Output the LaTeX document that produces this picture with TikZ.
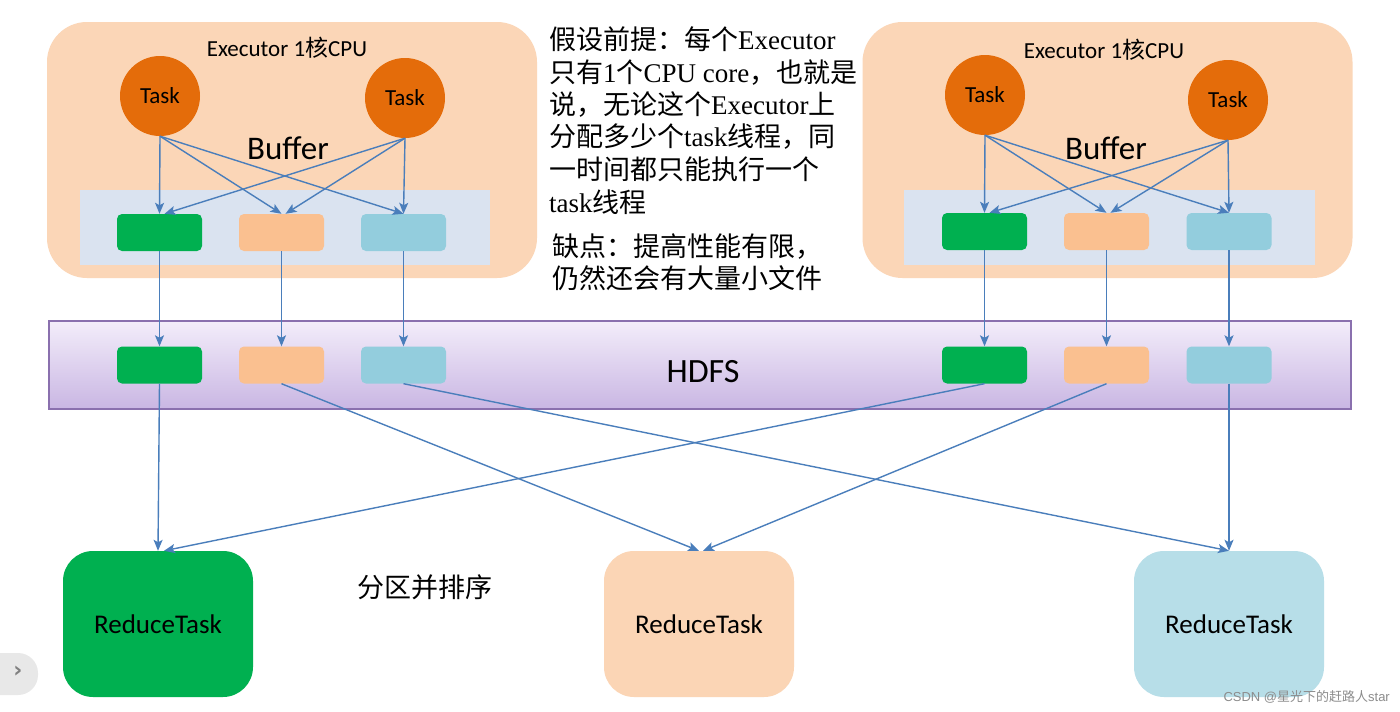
\documentclass[tikz,border=0pt]{standalone}
\usepackage{fontspec}
\setmainfont{Liberation Serif}
\newfontfamily\cjk{Noto Sans CJK SC}
\newfontfamily\calibri{Carlito}
\newfontfamily\lsans{Liberation Sans}
\newfontfamily\dvs{DejaVu Sans}
\usetikzlibrary{arrows.meta,shadings}
\definecolor{execfill}{HTML}{FBD6B7}
\definecolor{buffill}{HTML}{DAE3F0}
\definecolor{taskfill}{HTML}{E46C0A}
\definecolor{gbox}{HTML}{00B050}
\definecolor{pbox}{HTML}{FAC090}
\definecolor{bbox}{HTML}{93CDDD}
\definecolor{rpeach}{HTML}{FBD5B5}
\definecolor{rblue}{HTML}{B7DEE8}
\definecolor{arrcol}{HTML}{4A7EBB}
\definecolor{hdfsborder}{HTML}{8A70AE}
\definecolor{hdfstop}{HTML}{F3EDFA}
\definecolor{hdfsbot}{HTML}{C9B6E3}
\tikzset{
  execbox/.style={fill=execfill, rounded corners=40pt, minimum width=490pt, minimum height=256pt, inner sep=0pt},
  bufbox/.style={fill=buffill, minimum width=410pt, minimum height=75pt, inner sep=0pt},
  tasknode/.style={circle, fill=taskfill, minimum size=80pt, inner sep=0pt, font=\calibri\fontsize{23}{26}\selectfont},
  sbox/.style={rounded corners=5pt, minimum width=85pt, minimum height=37pt, inner sep=0pt},
  reducebox/.style={rounded corners=30pt, minimum width=190pt, minimum height=146pt, inner sep=0pt, font=\calibri\fontsize{27}{30}\selectfont},
  arr/.style={draw=arrcol, line width=1.4pt, -{Stealth[length=11pt,width=9pt,inset=2.5pt]}},
  lbl/.style={inner sep=0pt},
  para/.style={inner sep=0pt, anchor=base west, font=\fontsize{27}{32}\selectfont}
}
\begin{document}
\begin{tikzpicture}[x=1pt,y=-1pt]
\useasboundingbox[fill=white] (0,0) rectangle (1400,712);

% executors
\node[execbox] (ex1) at (292,150) {};
\node[execbox] (ex2) at (1107.5,150) {};
\node[bufbox] (bf1) at (285,227.5) {};
\node[bufbox, minimum width=411pt] (bf2) at (1109.5,227.5) {};
\node[lbl, font=\calibri\fontsize{23}{26}\selectfont] (et1) at (287,48) {Executor 1{\cjk 核}CPU};
\node[lbl, font=\calibri\fontsize{23}{26}\selectfont] (et2) at (1104,50) {Executor 1{\cjk 核}CPU};
\node[lbl, font=\calibri\fontsize{33}{36}\selectfont] (bt1) at (288,148) {Buffer};
\node[lbl, font=\calibri\fontsize{33}{36}\selectfont] (bt2) at (1106,148) {Buffer};

% tasks
\node[tasknode] (ta1) at (160,96) {Task};
\node[tasknode] (ta2) at (405,98) {Task};
\node[tasknode] (tb1) at (985,95) {Task};
\node[tasknode] (tb2) at (1228,100) {Task};

% buffer boxes
\node[sbox, fill=gbox] (g1) at (159.5,232.5) {};
\node[sbox, fill=pbox] (p1) at (281.5,232.5) {};
\node[sbox, fill=bbox] (b1) at (403.5,232.5) {};
\node[sbox, fill=gbox] (g2) at (984.5,231.5) {};
\node[sbox, fill=pbox] (p2) at (1106.5,231.5) {};
\node[sbox, fill=bbox] (b2) at (1229,231.5) {};

% HDFS
\node[draw=hdfsborder, line width=1.5pt, top color=hdfstop, bottom color=hdfsbot, minimum width=1302pt, minimum height=88pt, inner sep=0pt] (hdfs) at (700,365) {};
\node[lbl, font=\calibri\fontsize{34}{38}\selectfont] (ht) at (703,372) {HDFS};
\node[sbox, fill=gbox] (hg1) at (159.5,365) {};
\node[sbox, fill=pbox] (hp1) at (281.5,365) {};
\node[sbox, fill=bbox] (hb1) at (403.5,365) {};
\node[sbox, fill=gbox] (hg2) at (984.5,365) {};
\node[sbox, fill=pbox] (hp2) at (1106.5,365) {};
\node[sbox, fill=bbox] (hb2) at (1229,365) {};

% reduce
\node[reducebox, fill=gbox] (r1) at (158,624) {ReduceTask};
\node[reducebox, fill=rpeach] (r2) at (699,624) {ReduceTask};
\node[reducebox, fill=rblue] (r3) at (1229,624) {ReduceTask};

% text block
\node[para] (l1) at (549,49) {{\cjk 假设前提：每个}Executor};
\node[para] (l2) at (549,82) {{\cjk 只有}1{\cjk 个}CPU core{\cjk ，也就是}};
\node[para] (l3) at (549,114) {{\cjk 说，无论这个}Executor{\cjk 上}};
\node[para] (l4) at (549,146) {{\cjk 分配多少个}task{\cjk 线程，同}};
\node[para] (l5) at (549,179) {{\cjk 一时间都只能执行一个}};
\node[para] (l6) at (549,212) {task{\cjk 线程}};
\node[para] (l7) at (552,256) {\cjk 缺点：提高性能有限，};
\node[para] (l8) at (552,288) {\cjk 仍然还会有大量小文件};
\node[lbl, font=\cjk\fontsize{27}{30}\selectfont] (fq) at (425,587) {分区并排序};

% arrows task -> buffer
\draw[arr] (ta1.south) -- (g1.north);
\draw[arr] (ta1.south) -- (p1.north);
\draw[arr] (ta1.south) -- (b1.north);
\draw[arr] (ta2.south) -- ([xshift=5pt]g1.north);
\draw[arr] (ta2.south) -- ([xshift=4pt]p1.north);
\draw[arr] (ta2.south) -- (b1.north);
\draw[arr] (tb1.south) -- (g2.north);
\draw[arr] (tb1.south) -- (p2.north);
\draw[arr] (tb1.south) -- (b2.north);
\draw[arr] (tb2.south) -- ([xshift=5pt]g2.north);
\draw[arr] (tb2.south) -- ([xshift=4pt]p2.north);
\draw[arr] (tb2.south) -- (b2.north);

% buffer -> HDFS
\draw[arr] (g1.south) -- (hg1.north);
\draw[arr] (p1.south) -- (hp1.north);
\draw[arr] (b1.south) -- (hb1.north);
\draw[arr] (g2.south) -- (hg2.north);
\draw[arr] (p2.south) -- (hp2.north);
\draw[arr] (b2.south) -- (hb2.north);

% HDFS -> reduce
\draw[arr] (hg1.south) -- (r1.north);
\draw[arr] (hp1.south) -- (r2.north);
\draw[arr] (hb1.south) -- (r3.north);
\draw[arr] (hg2.south) -- ([xshift=6pt]r1.north);
\draw[arr] (hp2.south) -- ([xshift=4pt]r2.north);
\draw[arr] (hb2.south) -- (r3.north);

% page artefacts
\node[fill=black!9, rounded corners=20pt, minimum width=60pt, minimum height=42pt, inner sep=0pt] (btn) at (8,674) {};
\node[lbl, font=\dvs\bfseries\fontsize{22}{24}\selectfont, text=black!50] (btnt) at (18,672) {›};
\node[lbl, anchor=east, font=\lsans\fontsize{13}{15}\selectfont, text=black!45] (wm) at (1390,697) {CSDN @{\cjk 星光下的赶路人}star};
\end{tikzpicture}
\end{document}
